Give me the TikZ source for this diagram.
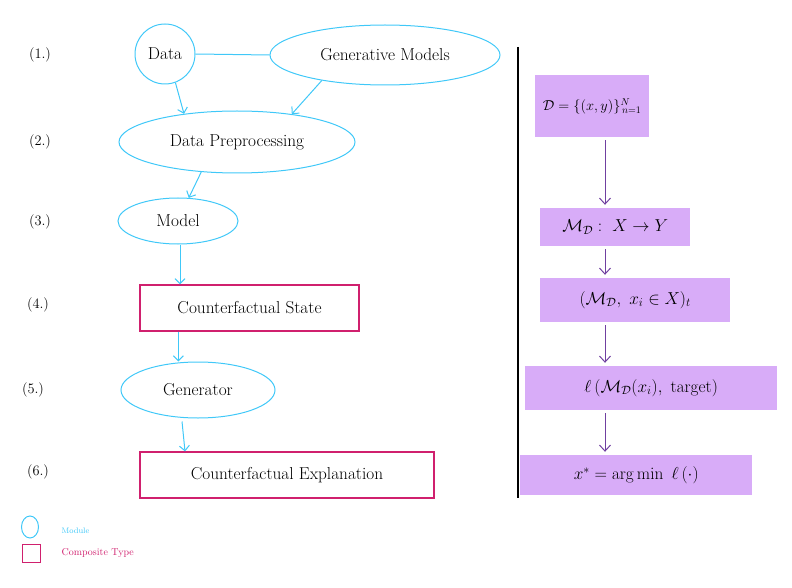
\documentclass[tikz,border=0pt]{standalone}
\usepackage{amsmath}
\usepackage{amsfonts}
\usepackage{xcolor}
\usetikzlibrary{shapes.geometric,arrows.meta}

\definecolor{modcyan}{RGB}{64,200,248}
\definecolor{comppink}{RGB}{208,32,110}
\definecolor{hlpurple}{RGB}{216,172,248}
\definecolor{arrpurple}{RGB}{112,64,160}

\begin{document}
\begin{tikzpicture}[x=1pt,y=-1pt,
  module/.style={draw=modcyan,line width=1pt,ellipse,inner sep=0pt,font=\LARGE},
  ctype/.style={draw=comppink,line width=1.2pt,rectangle,inner sep=0pt,font=\LARGE},
  flow/.style={draw=modcyan,line width=1pt,-{Straight Barb[length=5pt,width=10pt]}},
  calc/.style={fill=hlpurple,inner sep=0pt,anchor=west,font=\LARGE},
  calcflow/.style={draw=arrpurple,line width=1pt,shorten <=3pt,shorten >=3pt,-{Straight Barb[length=6pt,width=11pt]}},
  stagelbl/.style={font=\Large}]
\useasboundingbox (0,0) rectangle (792,588);

%Stage numbers
\node[stagelbl] (s1) at (40,55) {(1.)};
\node[stagelbl] (s2) at (40,142) {(2.)};
\node[stagelbl] (s3) at (40,222) {(3.)};
\node[stagelbl] (s4) at (38,305) {(4.)};
\node[stagelbl] (s5) at (33,390) {(5.)};
\node[stagelbl] (s6) at (38,472) {(6.)};

%Modules and composite types
\node[module,minimum width=60pt,minimum height=60pt] (data) at (165,54) {Data};
\node[module,minimum width=230pt,minimum height=60pt] (genmod) at (385,55) {Generative Models};
\node[module,minimum width=236pt,minimum height=62pt] (prep) at (237,142) {Data Preprocessing};
\node[module,minimum width=120pt,minimum height=46pt] (model) at (178,221) {Model};
\node[ctype,minimum width=219pt,minimum height=46pt] (cfstate) at (249.5,308) {Counterfactual State};
\node[module,minimum width=154pt,minimum height=56pt] (generator) at (198,390) {Generator};
\node[ctype,minimum width=294pt,minimum height=46pt] (cfexpl) at (287,475) {Counterfactual Explanation};

%Connections
\draw[draw=modcyan,line width=1pt] (data.east) -- (genmod.west);
\draw[flow] (data.-70) -- (prep.152);
\draw[flow] (genmod.202) -- (prep.27);
\draw[flow] (prep.220) -- (model.65);
\draw[flow] ([xshift=2pt]model.south) -- ([xshift=2pt]model.south |- cfstate.north);
\draw[flow] ([xshift=39pt]cfstate.south west) -- ([xshift=39pt]cfstate.south west |- generator.north);
\draw[flow] ([xshift=-16pt,yshift=-3pt]generator.south) -- ([xshift=-13pt]generator.south |- cfexpl.north);

%Separator
\draw[line width=1.5pt] (518,47) -- (518,498);

%Formal side
\coordinate (rline) at (605,0);
\node[calc,font=\Large,minimum width=114pt,minimum height=62pt] (dset) at (535,106) {$\mathcal{D}=\{(x,y)\}^{N}_{\,n=1}$};
\node[calc,minimum width=150pt,minimum height=38pt] (mapping) at (540,227) {$\mathcal{M}_{\mathcal{D}}:\ X \rightarrow Y$};
\node[calc,minimum width=190pt,minimum height=44pt] (cstate) at (540,300) {$(\mathcal{M}_{\mathcal{D}},\ x_i \in X)_t$};
\node[calc,minimum width=252pt,minimum height=44pt] (loss) at (525,388) {$\ell\,(\mathcal{M}_{\mathcal{D}}(x_i),\ \mathrm{target})$};
\node[calc,minimum width=232pt,minimum height=40pt] (argmin) at (520,475) {$x^{*} = \arg\min\ \ell\,(\cdot)$};

\draw[calcflow] (dset.south -| rline) -- (mapping.north -| rline);
\draw[calcflow] (mapping.south -| rline) -- (cstate.north -| rline);
\draw[calcflow] (cstate.south -| rline) -- (loss.north -| rline);
\draw[calcflow] (loss.south -| rline) -- (argmin.north -| rline);

%Legend
\node[draw=modcyan,line width=1pt,ellipse,inner sep=0pt,minimum width=17pt,minimum height=22pt] (lmod) at (30,527) {};
\node[anchor=west,text=modcyan,font=\footnotesize] (lmodtxt) at (58,531) {Module};
\node[draw=comppink,line width=1pt,inner sep=0pt,minimum width=18pt,minimum height=18pt] (lcomp) at (31,553) {};
\node[anchor=west,text=comppink] (lcomptxt) at (58,553) {Composite Type};
\end{tikzpicture}
\end{document}
